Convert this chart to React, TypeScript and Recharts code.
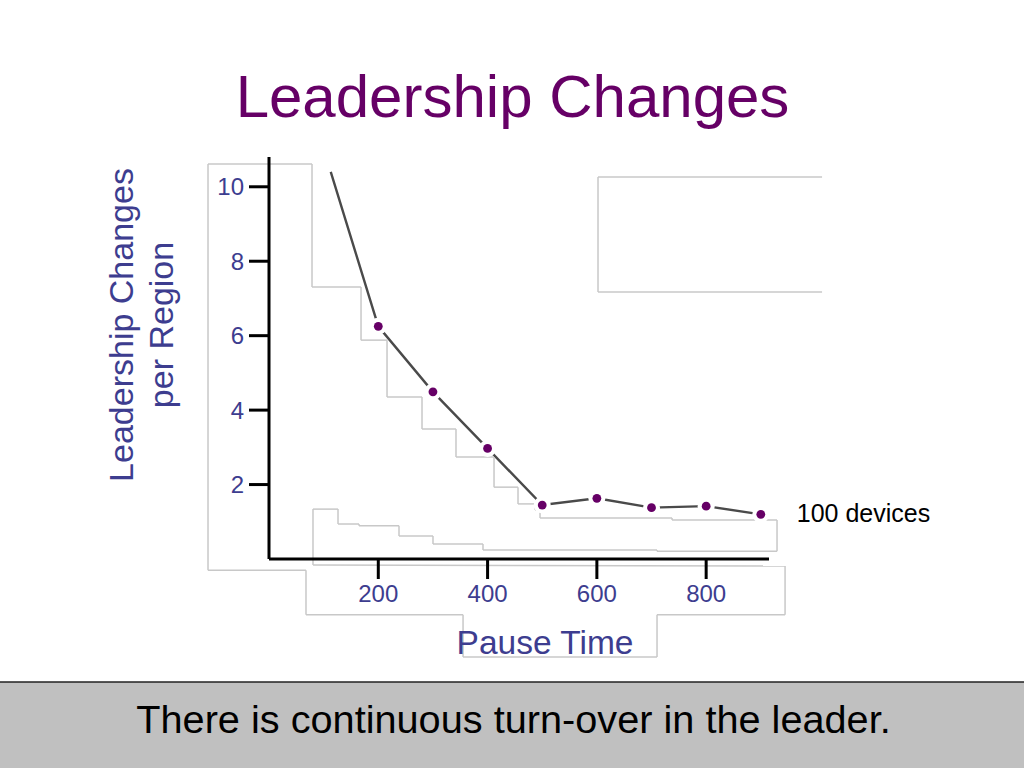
import { LineChart, Line, XAxis, YAxis, ReferenceLine } from "recharts";

const pauseTimes = [113, 200, 300, 400, 500, 600, 700, 800, 900];
const leadershipChanges = [10.4, 6.25, 4.49, 2.97, 1.45, 1.63, 1.38, 1.42, 1.2];
const xTicks = [200, 400, 600, 800];
const yTicks = [2, 4, 6, 8, 10];
const seriesName = "100 devices";

// faint grey outlines left over from the slide's grouped shapes, in axis units
const outlineUpper = [
  [-111.6, -0.3], [-111.6, 10.61], [78.7, 10.61], [78.7, 7.31], [168.4, 7.31],
  [168.4, 5.88], [216, 5.88], [216, 4.35], [280, 4.35], [280, 3.49],
  [342.2, 3.49], [342.2, 2.74], [411.8, 2.74], [411.8, 1.93], [455.7, 1.93],
  [455.7, 1.48], [486.8, 1.48], [486.8, 1.32], [496, 1.32], [496, 1.1],
  [737.6, 1.1], [737.6, 1.05], [929.7, 1.05], [929.7, 0.21],
];
const outlineLower = [
  [929.7, 0.21], [710.1, 0.21], [710.1, 0.24], [391.6, 0.24], [391.6, 0.4],
  [300.1, 0.4], [300.1, 0.62], [237.9, 0.62], [237.9, 0.89], [164.7, 0.89],
  [164.7, 0.94], [126.3, 0.94], [126.3, 1.34], [80.5, 1.34], [80.5, -0.16],
  [944.4, -0.19], [944.4, -1.5], [710.1, -1.5], [710.1, -2.63], [355.1, -2.63],
  [355.1, -1.5], [67.7, -1.5], [67.7, -0.3], [-111.6, -0.3],
];
const outlineLegend = [
  [1012.1, 10.26], [602.1, 10.26], [602.1, 7.17], [1012.1, 7.17],
];

const data = pauseTimes.map((x, i) => ({ x, y: leadershipChanges[i] }));

const FONT = '"Liberation Sans", Arial, sans-serif';
const PURPLE = "#660066";
const AXIS_BLUE = "#3d3d8f";

const segments = [outlineUpper, outlineLower, outlineLegend].flatMap((poly) =>
  poly.slice(1).map((p, i) => [poly[i], p])
);

const Dot = (props: any) => {
  const { cx, cy, index } = props;
  if (index === 0) return <g key="dot-0" />;
  return (
    <g key={`dot-${index}`}>
      <circle cx={cx} cy={cy} r={8.5} fill="#fff" />
      <circle cx={cx} cy={cy} r={4.4} fill={PURPLE} />
    </g>
  );
};

const SeriesLabel = (props: any) => {
  const { x, y, index } = props;
  if (index !== data.length - 1) return <g />;
  return (
    <text x={x + 36} y={y + 8} fontSize={25} fill="#000" fontFamily={FONT}>
      {seriesName}
    </text>
  );
};

const YTitle = (props: any) => {
  const vb = props.viewBox;
  const cy = vb.y + vb.height / 2 - 33;
  const x1 = vb.x - 76;
  const x2 = x1 + 40;
  return (
    <g fill={AXIS_BLUE} fontSize={34} fontFamily={FONT} textAnchor="middle">
      <text x={x1} y={cy} transform={`rotate(-90, ${x1}, ${cy})`}>Leadership Changes</text>
      <text x={x2} y={cy} transform={`rotate(-90, ${x2}, ${cy})`}>per Region</text>
    </g>
  );
};

const XTitle = (props: any) => {
  const vb = props.viewBox;
  return (
    <text x={vb.x + vb.width / 2 + 26} y={vb.y + 95} fill={AXIS_BLUE} fontSize={33.5}
      fontFamily={FONT} textAnchor="middle">
      Pause Time
    </text>
  );
};

export default function App() {
  return (
    <div style={{ position: "fixed", left: 0, top: 0, width: 1024, height: 768, background: "#fff", fontFamily: FONT }}>
      <svg width={1024} height={768} style={{ position: "absolute", left: 0, top: 0 }}>
        <text x={512.5} y={117} textAnchor="middle" fontSize={60} fill={PURPLE} fontFamily={FONT}>
          Leadership Changes
        </text>
        <rect x={0} y={682} width={1024} height={86} fill="#c0c0c0" />
        <line x1={0} x2={1024} y1={682} y2={682} stroke="#222" strokeWidth={1.5} />
        <text x={513.5} y={733} textAnchor="middle" fontSize={39.7} fill="#000" fontFamily={FONT}>
          There is continuous turn-over in the leader.
        </text>
      </svg>
      <div style={{ position: "absolute", left: 0, top: 0 }}>
        <LineChart width={1024} height={768} data={data}
          margin={{ top: 157, right: 255, bottom: 149, left: 209 }}>
          <XAxis type="number" dataKey="x" domain={[0, 915]} ticks={xTicks} height={60}
            tickSize={20} tickMargin={6}
            tick={{ fill: AXIS_BLUE, fontSize: 24 }}
            axisLine={{ stroke: "#000", strokeWidth: 3 }}
            tickLine={{ stroke: "#000", strokeWidth: 3 }}
            label={{ content: (p: any) => <XTitle {...p} /> }} />
          <YAxis type="number" domain={[0, 10.8]} ticks={yTicks} width={60}
            tickSize={20} tickMargin={5}
            tick={{ fill: AXIS_BLUE, fontSize: 24 }}
            axisLine={{ stroke: "#000", strokeWidth: 3 }}
            tickLine={{ stroke: "#000", strokeWidth: 3 }}
            label={{ content: (p: any) => <YTitle {...p} /> }} />
          <Line type="linear" dataKey="y" stroke="#4a4a4a" strokeWidth={2.4}
            dot={Dot} activeDot={false} label={SeriesLabel} isAnimationActive={false} />
          {segments.map(([a, b], i) => (
            <ReferenceLine key={i} ifOverflow="visible" stroke="#c8c8c8" strokeWidth={1.5}
              segment={[{ x: a[0], y: a[1] }, { x: b[0], y: b[1] }]} />
          ))}
        </LineChart>
      </div>
    </div>
  );
}
